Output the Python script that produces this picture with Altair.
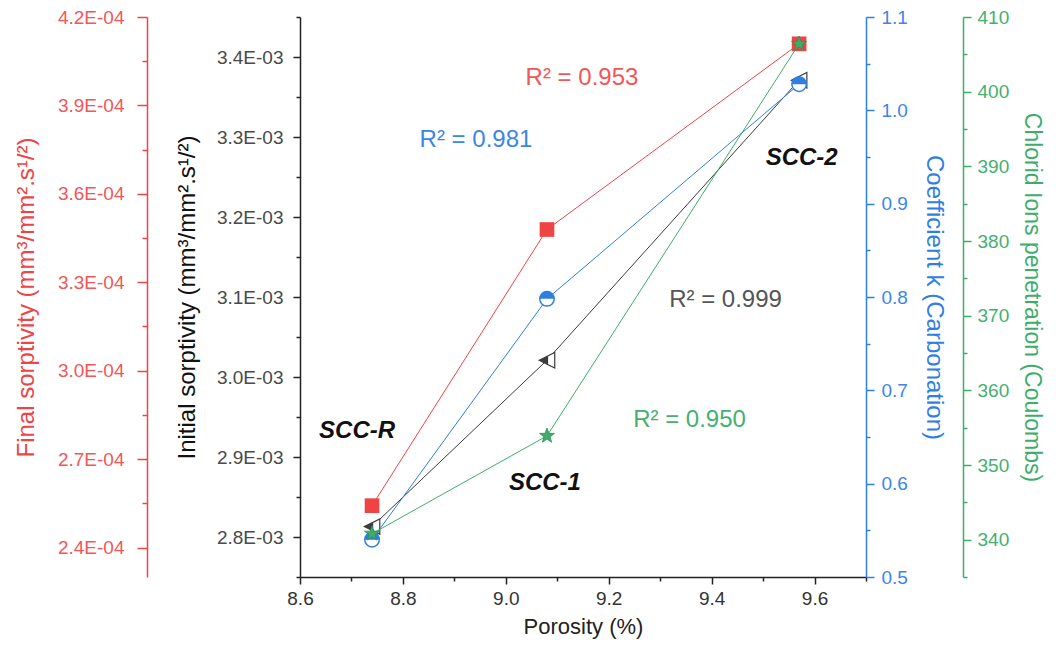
import altair as alt
import pandas as pd

FONT = "Liberation Sans"

# ---------------- data ----------------
samples = ["SCC-R", "SCC-1", "SCC-2"]
porosity = [8.74, 9.08, 9.57]
initial_sorptivity = [2.813e-3, 3.021e-3, 3.371e-3]
final_sorptivity = [2.542e-4, 3.479e-4, 4.109e-4]
carbonation_k = [0.540, 0.798, 1.028]
chloride_ions = [340.8, 353.9, 406.4]

x_domain = [8.6, 9.7]
x_major = [8.6, 8.8, 9.0, 9.2, 9.4, 9.6]
x_minor = [8.7, 8.9, 9.1, 9.3, 9.5, 9.7]

initial_domain = [2.75e-3, 3.45e-3]
initial_major = [2.8e-3, 2.9e-3, 3.0e-3, 3.1e-3, 3.2e-3, 3.3e-3, 3.4e-3]
initial_minor = [2.75e-3, 2.85e-3, 2.95e-3, 3.05e-3, 3.15e-3, 3.25e-3, 3.35e-3, 3.45e-3]

final_domain = [2.3e-4, 4.2e-4]
final_major = [2.4e-4, 2.7e-4, 3.0e-4, 3.3e-4, 3.6e-4, 3.9e-4, 4.2e-4]
final_minor = [2.55e-4, 2.85e-4, 3.15e-4, 3.45e-4, 3.75e-4, 4.05e-4]

carb_domain = [0.5, 1.1]
carb_major = [0.5, 0.6, 0.7, 0.8, 0.9, 1.0, 1.1]
carb_minor = [0.55, 0.65, 0.75, 0.85, 0.95, 1.05]

chlor_domain = [335, 410]
chlor_major = [340, 350, 360, 370, 380, 390, 400, 410]
chlor_minor = [335, 345, 355, 365, 375, 385, 395, 405]

r2_text = ["R² = 0.953", "R² = 0.981", "R² = 0.999", "R² = 0.950"]
r2_x = [9.148, 8.942, 9.427, 9.357]
r2_y = [3.374e-3, 3.296e-3, 3.096e-3, 2.946e-3]
r2_series = ["final", "carb", "initial", "chlor"]

label_x = [8.711, 9.076, 9.575]
label_y = [2.9325e-3, 2.8675e-3, 3.274e-3]

# ---------------- style ----------------
RED = "#EF4444"
RED_TXT = "#F25757"
BLUE = "#2F7FE3"
BLUE_TXT = "#3B86E6"
GREEN = "#3DAE6A"
GREEN_TXT = "#45B06F"
DARK = "#3C3C3C"
AXIS_BLACK = "#222222"
LABEL_SIZE = 19
TITLE_SIZE = 24

W, H = 566, 560

HALF_TOP = "M-1,0A1,1,0,0,1,1,0Z"
TRI_LEFT = "M-1,0L1,-1L1,1Z"
TRI_LEFT_HALF = "M-1,0L0.15,-0.575L0.15,0.575Z"
STAR = ("M0,-1L0.235,-0.324L0.951,-0.309L0.380,0.124L0.588,0.809L0,0.4"
        "L-0.588,0.809L-0.380,0.124L-0.951,-0.309L-0.235,-0.324Z")

xscale = alt.Scale(domain=x_domain, nice=False, zero=False)


def df_of(values):
    return pd.DataFrame({"porosity": porosity, "value": values, "sample": samples})


def x_enc(axis=None):
    if axis is None:
        return alt.X("porosity:Q", scale=xscale, axis=None)
    return alt.X("porosity:Q", scale=xscale, axis=axis, title="Porosity (%)")


def y_axis(orient, offset, color, label_color, title_color, values, label_expr,
           title_padding, label_padding, tick_size, title_size=TITLE_SIZE):
    return alt.Axis(
        orient=orient, offset=offset, values=values, labelExpr=label_expr,
        tickSize=tick_size, tickWidth=1.5, tickColor=color,
        domainColor=color, domainWidth=1.5,
        labelColor=label_color, labelFont=FONT, labelFontSize=LABEL_SIZE,
        labelPadding=label_padding, labelOverlap=False, labelFlush=False,
        titleColor=title_color, titleFont=FONT, titleFontSize=title_size,
        titleFontWeight="normal", titlePadding=title_padding, grid=False,
    )


def minor_axis(orient, offset, color, values, size):
    return alt.Axis(
        orient=orient, offset=offset, values=values, labels=False,
        domain=False, tickSize=size, tickWidth=1.5, tickColor=color,
        grid=False, title="",
    )


def series(values, domain, axis, title, color, point_marks, xaxis=None):
    y = alt.Y("value:Q", scale=alt.Scale(domain=domain, nice=False, zero=False),
              axis=axis, title=title)
    base = alt.Chart(df_of(values)).encode(x=x_enc(xaxis), y=y)
    layers = [base.mark_line(color=color, strokeWidth=1)]
    for pm in point_marks:
        layers.append(base.mark_point(**pm))
    return alt.layer(*layers)


def minor_layer(values, domain, axis, xaxis=None):
    y = alt.Y("value:Q", scale=alt.Scale(domain=domain, nice=False, zero=False),
              axis=axis)
    return alt.Chart(df_of(values)).mark_point(opacity=0).encode(x=x_enc(xaxis), y=y)


x_main_axis = alt.Axis(
    orient="bottom", values=x_major, format=".1f", tickSize=7, tickWidth=1.5,
    tickColor=AXIS_BLACK, domainColor=AXIS_BLACK, domainWidth=1.5, labelFont=FONT,
    labelFontSize=LABEL_SIZE, labelColor="#333333", labelPadding=5,
    labelFlush=False, titleFont=FONT, titleFontSize=22, titleFontWeight="normal",
    titleColor="#222222", titlePadding=8, grid=False,
)
x_minor_axis = alt.Axis(orient="bottom", values=x_minor, labels=False, domain=False,
                        tickSize=4, tickWidth=1.5, tickColor=AXIS_BLACK, grid=False,
                        title="")

init_axis = y_axis("left", 0, AXIS_BLACK, "#4A4A4A", "#111111", initial_major,
                   "format(datum.value*1000, '.1f') + 'E-03'", 17, 10, 7)
final_axis = y_axis("left", 153, RED, RED_TXT, RED, final_major,
                    "format(datum.value*10000, '.1f') + 'E-04'", 19, 13, 10)
carb_axis = y_axis("right", 0, BLUE, BLUE_TXT, BLUE, carb_major,
                   "format(datum.value, '.1f')", 14, 7, 8)
chlor_axis = y_axis("right", 97, GREEN, GREEN_TXT, GREEN, chlor_major,
                    "format(datum.value, '.0f')", 11, 6, 8, title_size=23)

initial_layer = series(
    initial_sorptivity, initial_domain, init_axis,
    "Initial sorptivity (mm³/mm².s¹/²)", DARK,
    [
        dict(shape=TRI_LEFT, size=240, filled=True, fill="white", stroke=DARK,
             strokeWidth=1.2, opacity=1),
        dict(shape=TRI_LEFT_HALF, size=240, filled=True, fill=DARK, strokeWidth=0,
             opacity=1),
    ],
    xaxis=x_main_axis,
)

carb_layer = series(
    carbonation_k, carb_domain, carb_axis, "Coefficient k (Carbonation)", BLUE,
    [
        dict(shape="circle", size=210, filled=True, fill="white", stroke=BLUE,
             strokeWidth=1.5, opacity=1),
        dict(shape=HALF_TOP, size=210, filled=True, fill=BLUE, strokeWidth=0,
             opacity=1),
    ],
)

final_layer = series(
    final_sorptivity, final_domain, final_axis,
    "Final sorptivity (mm³/mm².s¹/²)", RED,
    [dict(shape="square", size=215, filled=True, color=RED, opacity=1)],
)

chlor_layer = series(
    chloride_ions, chlor_domain, chlor_axis,
    "Chlorid Ions penetration (Coulombs)", GREEN,
    [dict(shape=STAR, size=250, filled=True, fill=GREEN, stroke="#2E8B57",
          strokeWidth=0.8, opacity=1)],
)

r2_df = pd.DataFrame({"text": r2_text, "porosity": r2_x, "value": r2_y,
                      "series": r2_series})
lab_df = pd.DataFrame({"text": samples, "porosity": label_x, "value": label_y})
text_y = alt.Y("value:Q", scale=alt.Scale(domain=initial_domain, nice=False,
                                          zero=False), axis=None)
r2_layer = alt.Chart(r2_df).mark_text(font=FONT, fontSize=24).encode(
    x=x_enc(), y=text_y, text="text:N",
    color=alt.Color("series:N", legend=None,
                    scale=alt.Scale(domain=["final", "carb", "initial", "chlor"],
                                    range=[RED_TXT, BLUE_TXT, "#555555", GREEN_TXT])),
)
lab_layer = alt.Chart(lab_df).mark_text(
    font=FONT, fontSize=24, fontWeight="bold", fontStyle="italic", color="#111111"
).encode(x=x_enc(), y=text_y, text="text:N")

minors = [
    minor_layer(initial_sorptivity, initial_domain,
                minor_axis("left", 0, AXIS_BLACK, initial_minor, 4), xaxis=x_minor_axis),
    minor_layer(final_sorptivity, final_domain,
                minor_axis("left", 153, RED, final_minor, 5)),
    minor_layer(carbonation_k, carb_domain, minor_axis("right", 0, BLUE, carb_minor, 4)),
    minor_layer(chloride_ions, chlor_domain,
                minor_axis("right", 97, GREEN, chlor_minor, 4)),
]

chart = alt.layer(
    *minors, initial_layer, carb_layer, final_layer, chlor_layer, r2_layer, lab_layer
).resolve_scale(
    x="independent", y="independent", color="independent"
).properties(
    width=W, height=H,
    autosize=alt.AutoSizeParams(type="none"),
    padding={"left": 292, "top": 9, "right": 182, "bottom": 63},
    background="white",
).configure_view(stroke=None)

chart.save("out.html", embed_options={"renderer": "svg", "actions": False})
